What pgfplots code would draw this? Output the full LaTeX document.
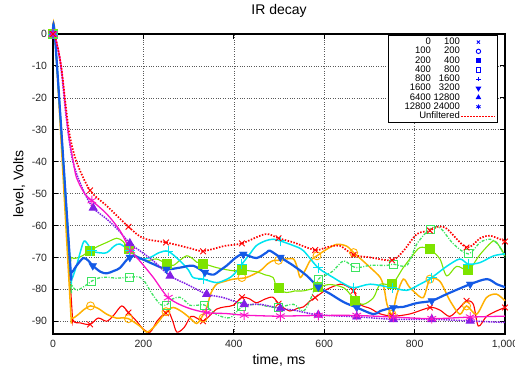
\documentclass[border=0pt]{standalone}
\usepackage{fontspec}
\setmainfont{Liberation Sans}
\usepackage{pgfplots}
\pgfplotsset{compat=1.18}
\definecolor{cRed}{RGB}{255,0,0}
\definecolor{cOrange}{RGB}{255,176,0}
\definecolor{cLime}{RGB}{125,228,0}
\definecolor{cGreen}{RGB}{60,228,95}
\definecolor{cCyan}{RGB}{0,228,240}
\definecolor{cBlue}{RGB}{20,90,230}
\definecolor{cPurple}{RGB}{130,30,230}
\definecolor{cMag}{RGB}{250,20,200}
\newcommand{\legtxt}[2]{\makebox[40bp][r]{#1}\makebox[29bp][r]{#2}}
\begin{document}
\begin{tikzpicture}
\path[use as bounding box] (-53bp,-36bp) rectangle (462bp,334bp);
\begin{axis}[
  at={(0,0)}, anchor=south west,
  scale only axis, width=452bp, height=300bp,
  xmin=0, xmax=1000, ymin=-94, ymax=0,
  xtick={0,200,...,1000}, ytick={-90,-80,...,0},
  tick align=inside, major tick length=5bp,
  tick style={black, line width=0.9bp},
  axis line style={black, line width=1.2bp},
  grid=major, major grid style={dotted, black!65, line width=0.6bp},
  /pgf/number format/assume math mode=true,
  tick label style={font=\fontsize{10.5bp}{12bp}\selectfont, text=black!85},
  xticklabel style={yshift=-2.5bp},
  yticklabel style={xshift=-2.5bp},
  title={IR decay},
  title style={font=\fontsize{14bp}{16bp}\selectfont, at={(axis description cs:0.5,1)}, anchor=base, yshift=14bp},
  xlabel={time, ms}, ylabel={level, Volts},
  label style={font=\fontsize{14bp}{16bp}\selectfont},
  x label style={at={(axis description cs:0.5,0)}, anchor=center, yshift=-26bp},
  y label style={at={(axis description cs:-0.075,0.5)}, anchor=center},
  clip=false,
  legend style={at={(1,1)}, anchor=north east, xshift=-7bp, yshift=-1bp,
    draw=black, line width=1.1bp, fill=white, font=\fontsize{9.5bp}{10bp}\selectfont,
    inner sep=1.5bp, row sep=-0.9bp, nodes={inner sep=1bp}},
  legend cell align=right, legend plot pos=right,
  legend image code/.code={\draw[#1, mark repeat=2, mark phase=2] plot coordinates {(0bp,0bp) (17bp,0bp) (34bp,0bp)};},
  every axis plot/.append style={mark options={solid, line width=0.9bp}},
]
% 0-100
\addplot[forget plot, cRed, line width=1.1bp, smooth, tension=0.5] coordinates {
(0,0) (5,-2) (40,-82) (45,-89.7) (60,-90.5) (82,-91) (100,-89) (119,-90) (135,-88) (152,-85.2) (167,-87.3) (185,-90) (200,-92.5) (215,-93.4) (230,-90) (244,-87.9) (255,-86.8) (265,-90) (274,-93.4) (290,-92) (305,-88.5) (318,-89) (332,-90) (345,-88.5) (362,-86.2) (380,-85.5) (399,-85) (418,-82.5) (435,-83) (450,-84.2) (470,-83) (487,-82.5) (502,-85) (524,-86.8) (540,-86) (554,-85.5) (570,-83.5) (580,-82.6) (606,-80) (635,-78.4) (650,-79) (665,-80.5) (680,-84.7) (702,-86) (724,-87.7) (753,-88.4) (790,-87.7) (834,-85.7) (856,-86.5) (878,-88.5) (900,-85.7) (915,-83.6) (930,-84.7) (941,-91.5) (959,-88.5) (981,-86.8) (1000,-85.7)};
\addplot[forget plot, only marks, cRed, mark=x, mark size=4bp] coordinates {
(0,0) (82,-91) (167,-87.3) (250,-87.5) (332,-90) (418,-82.5) (499,-84.5) (580,-82.6) (665,-80.5) (750,-88.3) (834,-85.7) (915,-83.6) (1000,-85.7)};
% 100-200
\addplot[forget plot, cOrange, line width=1.5bp, smooth, tension=0.5] coordinates {
(0,0) (5,-2) (38,-84) (41,-88.9) (55,-88) (67,-86.5) (83,-85.2) (100,-86) (119,-87.8) (140,-89) (156,-88.9) (167,-89.2) (192,-91.5) (207,-93.4) (222,-92) (237,-89.5) (250,-87) (266,-85.7) (285,-87) (303,-89) (318,-90.7) (330,-88.5) (340,-85.7) (350,-81) (362,-78.4) (380,-77.5) (399,-76.8) (428,-76.3) (458,-74.2) (475,-72) (487,-71) (499,-70.9) (515,-70.5) (532,-70.5) (540,-73) (547,-76.3) (558,-74) (569,-71) (584,-69.5) (605,-67.5) (628,-65.9) (650,-66.5) (665,-68.5) (685,-71) (702,-73.2) (724,-76.3) (733,-80) (739,-84.7) (750,-87.8) (761,-81.5) (775,-76.8) (787,-79) (797,-80.5) (819,-82.6) (834,-76.8) (856,-77.5) (878,-83.5) (900,-87.8) (915,-85.2) (937,-87.8) (959,-82.6) (981,-81.5) (1000,-83.6)};
\addplot[forget plot, only marks, cOrange, mark=o, mark size=4bp] coordinates {
(0,0) (83,-85.2) (167,-89.2) (250,-87) (332,-89) (418,-76.3) (499,-70.9) (584,-69.5) (665,-68.5) (750,-87.8) (834,-76.8) (915,-85.2)};
% 200-400
\addplot[forget plot, cLime, line width=1.1bp, smooth, tension=0.5] coordinates {
(0,0) (5,-2) (35,-66) (41,-70) (52,-70.2) (65,-69.5) (82,-67.9) (100,-66.5) (119,-65.3) (141,-64) (155,-65) (167,-67.4) (180,-69) (192,-70.5) (210,-71) (229,-70.5) (251,-71.9) (266,-72.5) (280,-71) (296,-69.5) (310,-70.5) (318,-71.5) (332,-71.9) (362,-73.2) (399,-74.2) (418,-74) (450,-74.5) (470,-75.5) (487,-76.3) (496,-79.7) (517,-81) (535,-80.5) (554,-80.5) (587,-79.3) (613,-78.5) (643,-79.5) (660,-82) (669,-83.6) (687,-84.7) (709,-82.6) (724,-78.4) (750,-78.4) (775,-73.2) (795,-69.5) (812,-66.9) (834,-67.5) (856,-70.5) (871,-75.8) (893,-72.8) (919,-74) (940,-70) (952,-67.9) (975,-64.8) (990,-67) (1000,-69.5)};
\addplot[forget plot, only marks, cLime, mark=square*, mark size=4.5bp] coordinates {
(0,0) (82,-67.9) (167,-67.4) (251,-71.9) (332,-71.9) (418,-74) (499,-79.7) (587,-79.3) (669,-83.6) (750,-78.4) (834,-67.5) (919,-74)};
% 400-800
\addplot[forget plot, cGreen, line width=1.3bp, dash pattern=on 3bp off 1.5bp on 1bp off 1.5bp, smooth, tension=0.5] coordinates {
(0,0) (5,-2) (38,-76) (41,-78.4) (52,-80.3) (70,-79) (86,-77.4) (100,-76.5) (119,-76.2) (140,-76.5) (169,-76.2) (192,-76.2) (205,-78) (215,-80.5) (237,-84.7) (251,-84.9) (265,-83) (281,-82.5) (295,-84) (303,-85) (320,-85) (335,-84.9) (362,-87.9) (392,-88.9) (418,-85.5) (450,-84.7) (473,-85.3) (499,-85.7) (532,-84.7) (554,-86.8) (570,-83) (587,-76.9) (605,-75.5) (620,-74.2) (643,-71.1) (669,-73.2) (702,-72.5) (739,-72.5) (753,-72.1) (783,-72.5) (805,-65.8) (834,-61.1) (856,-60.7) (886,-65.8) (919,-68.9) (945,-65.3) (967,-64.3) (985,-66) (1000,-70)};
\addplot[forget plot, only marks, cGreen, mark=square, mark size=4bp] coordinates {
(0,0) (86,-77.4) (169,-76.2) (251,-84.9) (335,-84.9) (418,-85.5) (499,-85.7) (587,-76.9) (669,-73.2) (753,-72.1) (834,-61.1) (919,-68.9)};
% 800-1600
\addplot[forget plot, cCyan, line width=1.5bp, smooth, tension=0.5] coordinates {
(0,0) (5,-2) (38,-72) (41,-76.8) (52,-72.6) (67,-65.3) (75,-65.5) (86,-67.9) (100,-68.5) (119,-68.5) (135,-66.5) (148,-65.8) (170,-67.9) (192,-70.5) (215,-70) (235,-68.5) (255,-68.1) (281,-71.1) (300,-74) (310,-76.3) (332,-76.8) (362,-77.9) (385,-76.8) (399,-75.5) (418,-72.1) (435,-69) (450,-66.3) (470,-64.8) (487,-64.3) (502,-64.8) (532,-66.3) (554,-67.9) (587,-73.3) (620,-76.3) (640,-78) (665,-79.5) (702,-78.4) (750,-79.5) (783,-80.3) (812,-78.4) (838,-76.3) (871,-72.8) (900,-70.5) (919,-72.1) (945,-71.6) (975,-69.5) (1000,-68.9)};
\addplot[forget plot, only marks, cCyan, mark=+, mark size=5bp] coordinates {
(0,0) (86,-67.9) (170,-67.9) (255,-68.1) (332,-76.8) (418,-72.1) (503,-64.8) (587,-73.3) (665,-79.5) (750,-79.5) (838,-76.3) (919,-72.1)};
% 1600-3200
\addplot[forget plot, cBlue, line width=2.2bp, smooth, tension=0.5] coordinates {
(0,0) (5,-2) (38,-72) (41,-74.7) (52,-72.6) (67,-70.2) (78,-71) (88,-72.6) (105,-74.5) (119,-75) (135,-74.2) (148,-73.3) (165,-70.5) (178,-69.5) (192,-70.2) (222,-72.1) (251,-73.7) (281,-73.2) (310,-72.6) (336,-74.7) (355,-75.4) (370,-74) (384,-72.6) (405,-70) (421,-69) (450,-70.2) (473,-68.4) (480,-67.9) (503,-70) (532,-72.6) (562,-75.8) (587,-79.3) (613,-81.4) (643,-84) (672,-85.7) (709,-87.8) (724,-86.8) (753,-85.7) (775,-85.5) (805,-84.3) (838,-83.6) (871,-81.5) (923,-78.4) (960,-76.8) (982,-78.4) (1000,-79.3)};
\addplot[forget plot, only marks, cBlue, mark=triangle*, mark size=4.5bp, mark options={rotate=180}] coordinates {
(0,0) (88,-72.6) (170,-70) (251,-73.7) (336,-74.7) (421,-69) (503,-70) (587,-79.3) (672,-85.7) (753,-85.7) (838,-83.6) (923,-78.4)};
% 6400-12800
\addplot[forget plot, cPurple, line width=1.5bp, densely dotted, smooth, tension=0.5] coordinates {
(0,0) (5,-1) (17,-10) (30,-27) (44,-40) (67,-49) (89,-54.5) (119,-58) (145,-61.5) (170,-65.6) (192,-67.9) (222,-71.1) (259,-75.8) (296,-78.4) (340,-81.5) (377,-82.6) (423,-84.7) (458,-84.7) (503,-86) (532,-86.5) (587,-88) (672,-88.6) (753,-89.4) (838,-89.4) (923,-89.9) (1000,-90.4)};
\addplot[forget plot, only marks, cPurple, mark=triangle*, mark size=4.5bp] coordinates {
(0,0) (89,-54.5) (170,-65.6) (259,-75.8) (340,-81.5) (423,-84.7) (503,-86) (587,-88) (672,-88.6) (753,-89.4) (838,-89.4) (923,-89.9)};
% 12800-24000
\addplot[forget plot, cMag, line width=1.3bp, smooth, tension=0.5] coordinates {
(0,0) (5,-1) (18,-10) (33,-30) (45,-40) (52,-45) (70,-50) (86,-52.2) (119,-56.4) (148,-61.6) (172,-67.9) (192,-71.1) (222,-76.3) (255,-82.6) (296,-85.7) (340,-87.3) (384,-87.6) (423,-88.1) (487,-88.4) (503,-88.4) (587,-88.2) (672,-88.2) (753,-88.7) (838,-89.2) (923,-88.7) (1000,-88.4)};
\addplot[forget plot, only marks, cMag, mark=asterisk, mark size=5bp] coordinates {
(0,0) (86,-52.2) (172,-67.9) (255,-82.6) (340,-87.3) (423,-88.1) (503,-88.4) (587,-88.2) (672,-88.2) (753,-88.7) (838,-89.2) (923,-88.7)};
% Unfiltered
\addplot[forget plot, cRed, line width=1.7bp, dash pattern=on 1.5bp off 1.5bp, smooth, tension=0.5] coordinates {
(0,0) (5,-1) (18,-10) (35,-30) (52,-40) (82,-49) (120,-54) (167,-60.4) (200,-64) (250,-65.3) (300,-67) (332,-68) (380,-66.4) (418,-65.6) (470,-62.7) (499,-64) (532,-65.3) (580,-67.7) (606,-66.8) (635,-66.4) (665,-69.2) (702,-70) (750,-70.9) (775,-68) (805,-62.7) (834,-61.6) (850,-60.4) (871,-61) (915,-66.9) (945,-64) (967,-63.2) (1000,-65)};
\addplot[forget plot, only marks, cRed, mark=x, mark size=4bp] coordinates {
(0,0) (82,-49) (167,-60.4) (250,-65.3) (332,-68.1) (418,-65.6) (499,-64) (580,-67.7) (665,-69.2) (750,-70.9) (834,-61.6) (915,-66.9) (1000,-65)};
% legend
\addlegendimage{only marks, blue, mark=x, mark size=2.2bp}
\addlegendentry{\legtxt{0}{100}}
\addlegendimage{only marks, blue, mark=o, mark size=2.2bp}
\addlegendentry{\legtxt{100}{200}}
\addlegendimage{only marks, blue, mark=square*, mark size=2.2bp}
\addlegendentry{\legtxt{200}{400}}
\addlegendimage{only marks, blue, mark=square, mark size=2.2bp}
\addlegendentry{\legtxt{400}{800}}
\addlegendimage{only marks, blue, mark=+, mark size=2.2bp}
\addlegendentry{\legtxt{800}{1600}}
\addlegendimage{only marks, blue, mark=triangle*, mark size=2.4bp, mark options={rotate=180}}
\addlegendentry{\legtxt{1600}{3200}}
\addlegendimage{only marks, blue, mark=triangle*, mark size=2.4bp}
\addlegendentry{\legtxt{6400}{12800}}
\addlegendimage{only marks, blue, mark=asterisk, mark size=2.4bp}
\addlegendentry{\legtxt{12800}{24000}}
\addlegendimage{cRed, line width=1bp, dash pattern=on 1.5bp off 1.5bp}
\addlegendentry{Unfiltered}
\end{axis}
\end{tikzpicture}
\end{document}
